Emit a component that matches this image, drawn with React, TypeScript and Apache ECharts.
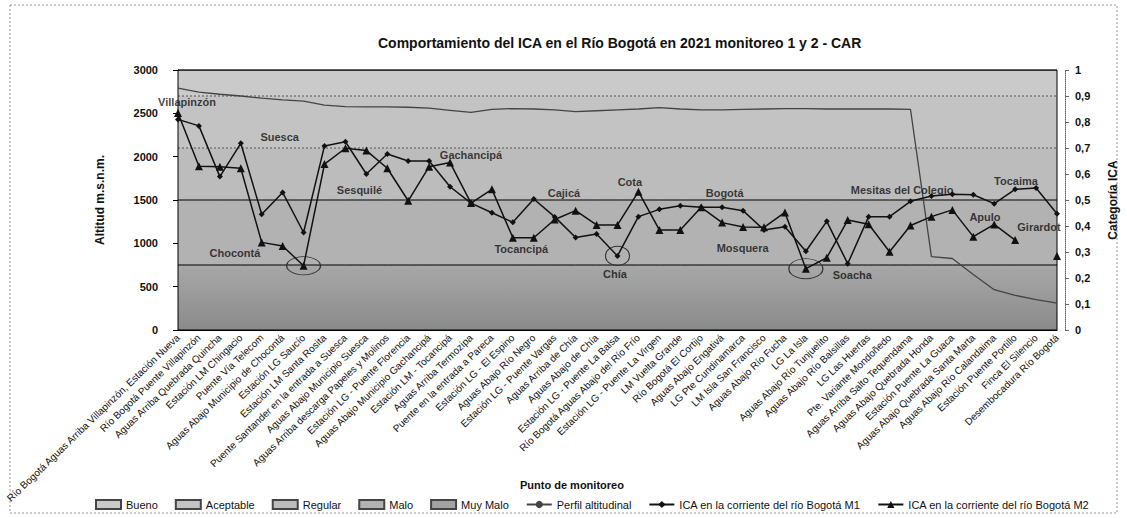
import React, { useEffect, useRef } from "react";
import * as echarts from "echarts";

const categories = [
  "Río Bogotá Aguas Arriba Villapinzón, Estación Nueva",
  "Río Bogotá Puente Villapinzón",
  "Aguas Arriba Quebrada Quincha",
  "Estación LM Chingacio",
  "Puente Vía Telecom",
  "Aguas Abajo Municipio de Chocontá",
  "Estación LG Saucío",
  "Estación LM Santa Rosita",
  "Puente Santander en la entrada a Suesca",
  "Aguas Abajo Municipio Suesca",
  "Aguas Arriba descarga Papeles y Molinos",
  "Estación LG - Puente Florencia",
  "Aguas Abajo Municipio Gachancipá",
  "Estación LM - Tocancipá",
  "Aguas Arriba Termozipa",
  "Puente en la entrada a Pareca",
  "Estación LG - El Espino",
  "Aguas Abajo Río Negro",
  "Estación LG - Puente Vargas",
  "Aguas Arriba de Chía",
  "Aguas Abajo de Chía",
  "Estación LG - Puente La Balsa",
  "Río Bogotá Aguas Abajo del Río Frío",
  "Estación LG - Puente La Virgen",
  "LM Vuelta Grande",
  "Río Bogotá El Cortijo",
  "Aguas Abajo Engativá",
  "LG Pte Cundinamarca",
  "LM Isla San Francisco",
  "Aguas Abajo Río Fucha",
  "LG La Isla",
  "Aguas Abajo Río Tunjuelito",
  "Aguas Abajo Río Balsillas",
  "LG Las Huertas",
  "Pte. Variante Mondoñedo",
  "Aguas Arriba Salto Tequendama",
  "Aguas Abajo Quebrada Honda",
  "Estación Puente La Guaca",
  "Aguas Abajo Quebrada Santa Marta",
  "Aguas Abajo Río Calandaima",
  "Estación Puente Portillo",
  "Finca El Silencio",
  "Desembocadura Río Bogotá",
];

const altitude = [
  2790, 2745, 2720, 2700, 2675, 2655, 2640, 2595, 2578, 2575, 2575, 2570, 2560, 2535, 2510,
  2545, 2555, 2550, 2540, 2520, 2530, 2540, 2550, 2565, 2550, 2540, 2540, 2545, 2550, 2555,
  2555, 2550, 2550, 2550, 2550, 2546, 846, 825, 640, 465, 400, 350, 310,
];

const icaM1 = [
  0.81, 0.785, 0.59, 0.718, 0.445, 0.529, 0.375, 0.708, 0.724, 0.6, 0.677, 0.65, 0.65, 0.551, 0.488,
  0.451, 0.414, 0.504, 0.435, 0.356, 0.369, 0.285, 0.436, 0.464, 0.478, 0.472, 0.472, 0.459, 0.385, 0.397,
  0.303, 0.418, 0.255, 0.436, 0.436, 0.495, 0.515, 0.522, 0.52, 0.486, 0.541, 0.546, 0.447,
];

const icaM2 = [
  0.835, 0.63, 0.628, 0.622, 0.337, 0.323, 0.247, 0.638, 0.699, 0.69, 0.622, 0.497, 0.628, 0.644, 0.488,
  0.541, 0.355, 0.355, 0.425, 0.459, 0.404, 0.404, 0.532, 0.385, 0.385, 0.472, 0.413, 0.396, 0.395, 0.452,
  0.236, 0.278, 0.423, 0.407, 0.301, 0.402, 0.436, 0.462, 0.359, 0.406, 0.346, null, 0.285,
];

const bandNames = ["Muy Malo", "Malo", "Regular", "Aceptable", "Bueno"];
const bandUpper = [0.25, 0.5, 0.7, 0.9, 1.0];
const bandColors = ["#a3a3a3", "#b2b2b2", "#bcbcbc", "#c3c3c3", "#cacaca"];

const townNames = [
  "Villapinzón", "Suesca", "Chocontá", "Sesquilé", "Gachancipá", "Tocancipá", "Cajicá", "Cota",
  "Chía", "Bogotá", "Mosquera", "Soacha", "Mesitas del Colegio", "Tocaima", "Apulo", "Girardot",
];
const townX = [0.43, 4.86, 2.72, 8.67, 14.0, 16.4, 18.44, 21.59, 20.88, 26.12, 26.98, 32.22, 34.6, 40.04, 38.56, 41.14];
const townY = [0.877, 0.742, 0.296, 0.538, 0.673, 0.312, 0.527, 0.569, 0.215, 0.527, 0.315, 0.212, 0.538, 0.573, 0.435, 0.396];

const circled = [
  { series: "M2", idx: 6, w: 34, h: 18 },
  { series: "M1", idx: 21, w: 24, h: 19 },
  { series: "M2", idx: 30, w: 34, h: 20 },
];

const M1 = "ICA en la corriente del río Bogotá M1";
const M2 = "ICA en la corriente del río Bogotá M2";
const ALT = "Perfil altitudinal";

export default function App() {
  const ref = useRef<HTMLDivElement>(null);
  useEffect(() => {
    if (!ref.current) return;
    const chart = echarts.init(ref.current, null, { renderer: "svg" });
    const font = "Liberation Sans, Arial, sans-serif";

    const bandSeries = bandNames.map((name, i) => {
      const width = +(bandUpper[i] - (i === 0 ? 0 : bandUpper[i - 1])).toFixed(3);
      const dotted = name === "Regular" || name === "Aceptable";
      return {
        name,
        type: "line",
        stack: "bands",
        yAxisIndex: 1,
        symbol: "none",
        silent: true,
        z: 1,
        data: categories.map(() => width),
        lineStyle: {
          color: dotted ? "#555" : "#000",
          width: 1,
          type: dotted ? [2, 2] : "solid",
        },
        itemStyle: { color: bandColors[i], borderColor: "#444", borderWidth: 1 },
        areaStyle: {
          opacity: 1,
          color:
            i === 0
              ? new echarts.graphic.LinearGradient(0, 0, 0, 1, [
                  { offset: 0, color: "#a8a8a8" },
                  { offset: 1, color: "#8a8a8a" },
                ])
              : bandColors[i],
        },
      };
    });

    const circleMarks = (s: string, arr: (number | null)[]) =>
      circled
        .filter((c) => c.series === s)
        .map((c) => ({
          coord: [categories[c.idx], arr[c.idx]],
          symbol: "circle",
          symbolSize: [c.w, c.h],
          itemStyle: { color: "rgba(0,0,0,0)", borderColor: "#333", borderWidth: 1 },
          label: { show: false },
        }));

    chart.setOption({
      animation: false,
      backgroundColor: "#ffffff",
      textStyle: { fontFamily: font },
      title: {
        text: "Comportamiento del ICA en el Río Bogotá en 2021 monitoreo 1 y 2 - CAR",
        left: 373,
        top: 31,
        textStyle: { fontSize: 14, fontWeight: "bold", color: "#111", fontFamily: font },
      },
      graphic: [
        {
          type: "rect",
          shape: { x: 10, y: 5, width: 1107, height: 508 },
          style: { fill: "none", stroke: "#999", lineWidth: 1, lineDash: [2, 2] },
          silent: true,
        },
        {
          type: "text",
          left: 520,
          top: 479,
          style: { text: "Punto de monitoreo", fontSize: 11, fontWeight: "bold", fill: "#111", fontFamily: font },
        },
      ],
      legend: {
        left: 90,
        top: 494,
        itemWidth: 25,
        itemHeight: 9,
        itemGap: 17,
        textStyle: { fontSize: 11, color: "#111", fontFamily: font },
        data: [
          ...bandNames
            .slice()
            .reverse()
            .map((n) => ({ name: n, icon: "rect" })),
          { name: ALT },
          { name: M1 },
          { name: M2 },
        ],
      },
      grid: {
        left: 178,
        right: 67,
        top: 70,
        bottom: 188,
        show: true,
        borderColor: "#000",
        borderWidth: 1,
        backgroundColor: "transparent",
        z: 3,
      },
      xAxis: [
        {
          type: "category",
          data: categories,
          boundaryGap: false,
          axisLine: { lineStyle: { color: "#000" } },
          axisTick: { show: false },
          axisLabel: {
            interval: 0,
            rotate: 44,
            fontSize: 10,
            color: "#111",
            margin: 6,
            fontFamily: font,
          },
          splitLine: { show: false },
        },
        { type: "value", min: 0, max: 42, show: false },
      ],
      yAxis: [
        {
          type: "value",
          min: 0,
          max: 3000,
          interval: 500,
          name: "Altitud m.s.n.m.",
          nameLocation: "middle",
          nameGap: 72,
          nameTextStyle: { fontSize: 12, fontWeight: "bold", color: "#111", fontFamily: font },
          axisLine: { show: true, lineStyle: { color: "#000" } },
          axisTick: { show: true, length: 5, lineStyle: { color: "#000" } },
          axisLabel: {
            fontSize: 11,
            fontWeight: "bold",
            color: "#111",
            margin: 20,
            fontFamily: font,
            formatter: (v: number) => String(v),
          },
          splitLine: { show: false },
        },
        {
          type: "value",
          min: 0,
          max: 1,
          interval: 0.1,
          position: "right",
          offset: 8,
          name: "Categoría ICA",
          nameLocation: "middle",
          nameGap: 42,
          nameRotate: 90,
          nameTextStyle: { fontSize: 12, fontWeight: "bold", color: "#111", fontFamily: font },
          axisLine: { show: true, lineStyle: { color: "#666", type: "dotted" } },
          axisTick: { show: true, length: 4, lineStyle: { color: "#666" } },
          axisLabel: {
            fontSize: 11,
            fontWeight: "bold",
            color: "#111",
            margin: 10,
            fontFamily: font,
            formatter: (v: number) => (v === 0 || v === 1 ? String(v) : v.toFixed(1).replace(".", ",")),
          },
          splitLine: { show: false },
        },
      ],
      series: [
        ...bandSeries,
        {
          name: ALT,
          type: "line",
          yAxisIndex: 0,
          data: altitude,
          symbol: "none",
          z: 4,
          lineStyle: { color: "#444", width: 1.3 },
          itemStyle: { color: "#444" },
        },
        {
          name: M1,
          type: "line",
          yAxisIndex: 1,
          data: icaM1,
          symbol: "diamond",
          symbolSize: 6,
          z: 5,
          lineStyle: { color: "#111", width: 1.5 },
          itemStyle: { color: "#111" },
          markPoint: { silent: true, data: circleMarks("M1", icaM1) },
        },
        {
          name: M2,
          type: "line",
          yAxisIndex: 1,
          data: icaM2,
          symbol: "triangle",
          symbolSize: 8,
          connectNulls: false,
          z: 5,
          lineStyle: { color: "#111", width: 1.5 },
          itemStyle: { color: "#111" },
          markPoint: { silent: true, data: circleMarks("M2", icaM2) },
        },
        {
          name: "labels",
          type: "scatter",
          xAxisIndex: 1,
          yAxisIndex: 1,
          symbolSize: 0,
          silent: true,
          z: 6,
          data: townNames.map((n, i) => ({ name: n, value: [townX[i], townY[i]] })),
          label: {
            show: true,
            position: "inside",
            formatter: "{b}",
            fontSize: 11,
            fontWeight: "bold",
            color: "#111",
            fontFamily: font,
          },
        },
      ],
    });
    return () => chart.dispose();
  }, []);
  return (
    <div
      ref={ref}
      style={{ position: "fixed", left: 0, top: 0, width: 1127, height: 518 }}
    />
  );
}
